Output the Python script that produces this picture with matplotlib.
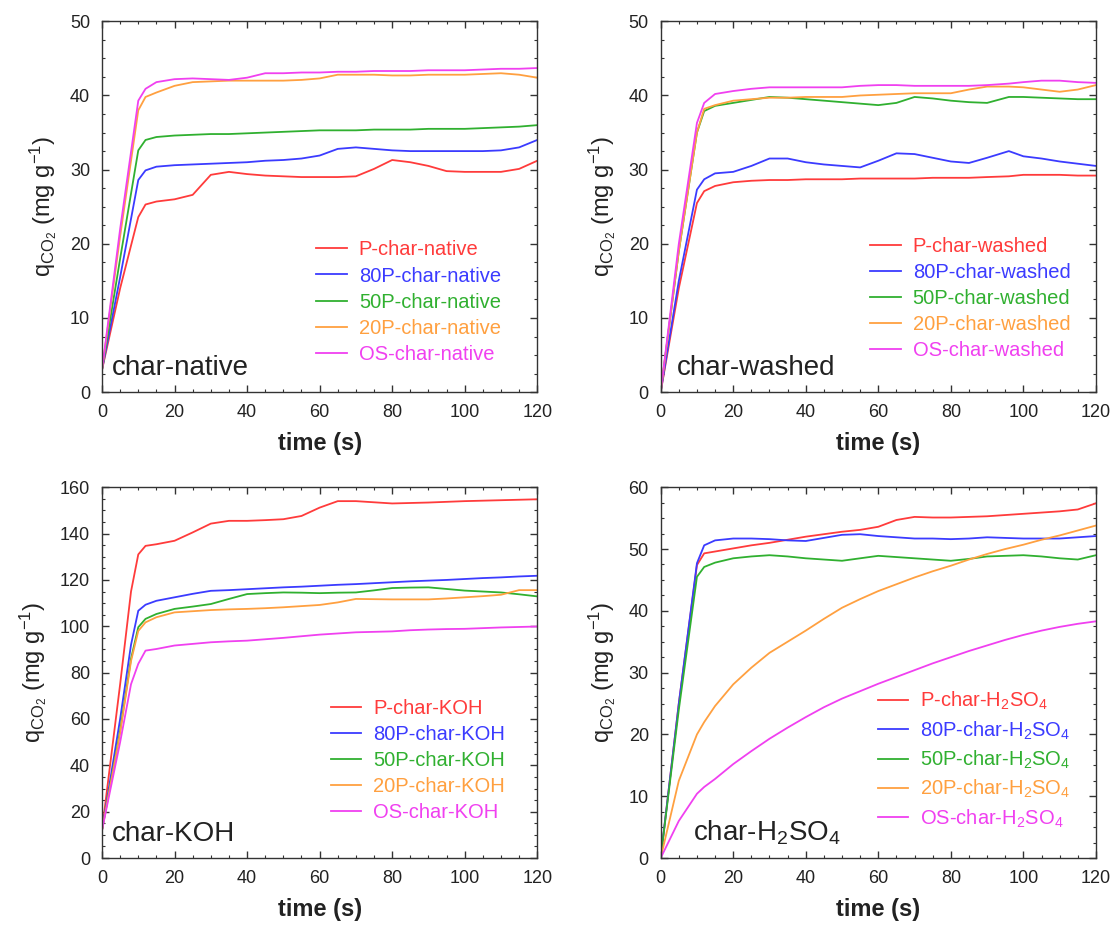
import matplotlib
matplotlib.use("Agg")
import matplotlib.pyplot as plt
from matplotlib.ticker import MultipleLocator, AutoMinorLocator

plt.rcParams["font.family"] = ["Liberation Sans", "DejaVu Sans"]
plt.rcParams["mathtext.fontset"] = "custom"
plt.rcParams["mathtext.rm"] = "Liberation Sans"
plt.rcParams["mathtext.it"] = "Liberation Sans:italic"
plt.rcParams["mathtext.bf"] = "Liberation Sans:bold"

COLORS = ["#ff3b3b", "#3b3bff", "#30b030", "#ffa040", "#f040f0"]
PREFIX = ["P", "80P", "50P", "20P", "OS"]

# ---- char-native ----
t_nat = [0, 5, 10, 12, 15, 20, 25, 30, 35, 40, 45, 50, 55, 60, 65, 70, 75, 80,
         85, 90, 95, 100, 105, 110, 115, 120]
nat_p = [3, 14, 23.6, 25.3, 25.7, 26.0, 26.6, 29.3, 29.7, 29.4, 29.2, 29.1, 29.0,
         29.0, 29.0, 29.1, 30.1, 31.3, 31.0, 30.5, 29.8, 29.7, 29.7, 29.7, 30.1, 31.2]
nat_80 = [3, 15.5, 28.6, 29.9, 30.4, 30.6, 30.7, 30.8, 30.9, 31.0, 31.2, 31.3, 31.5,
          31.9, 32.8, 33.0, 32.8, 32.6, 32.5, 32.5, 32.5, 32.5, 32.5, 32.6, 33.0, 34.0]
nat_50 = [3, 18, 32.6, 34.0, 34.4, 34.6, 34.7, 34.8, 34.8, 34.9, 35.0, 35.1, 35.2,
          35.3, 35.3, 35.3, 35.4, 35.4, 35.4, 35.5, 35.5, 35.5, 35.6, 35.7, 35.8, 36.0]
nat_20 = [3, 21, 38.0, 39.8, 40.4, 41.3, 41.8, 41.9, 42.0, 42.0, 42.0, 42.0, 42.1,
          42.3, 42.8, 42.8, 42.8, 42.7, 42.7, 42.8, 42.8, 42.8, 42.9, 43.0, 42.8, 42.4]
nat_os = [3, 22, 39.3, 40.9, 41.8, 42.2, 42.3, 42.2, 42.1, 42.4, 43.0, 43.0, 43.1,
          43.1, 43.2, 43.2, 43.3, 43.3, 43.3, 43.4, 43.4, 43.4, 43.5, 43.6, 43.6, 43.7]

# ---- char-washed ----
t_wash = [0, 5, 10, 12, 15, 20, 25, 30, 35, 40, 45, 50, 55, 60, 65, 70, 75, 80,
          85, 90, 96, 100, 105, 110, 115, 120]
wash_p = [0, 14, 25.5, 27.1, 27.8, 28.3, 28.5, 28.6, 28.6, 28.7, 28.7, 28.7, 28.8,
          28.8, 28.8, 28.8, 28.9, 28.9, 28.9, 29.0, 29.1, 29.3, 29.3, 29.3, 29.2, 29.2]
wash_80 = [0, 15, 27.3, 28.7, 29.5, 29.7, 30.5, 31.5, 31.5, 31.0, 30.7, 30.5, 30.3,
           31.2, 32.2, 32.1, 31.6, 31.1, 30.9, 31.6, 32.5, 31.8, 31.5, 31.1, 30.8, 30.5]
wash_50 = [0, 19, 35.0, 37.9, 38.6, 39.0, 39.4, 39.8, 39.7, 39.5, 39.3, 39.1, 38.9,
           38.7, 39.0, 39.8, 39.6, 39.3, 39.1, 39.0, 39.8, 39.8, 39.7, 39.6, 39.5, 39.5]
wash_20 = [0, 19, 35.0, 38.2, 38.7, 39.3, 39.5, 39.7, 39.7, 39.8, 39.8, 39.8, 40.0,
           40.1, 40.2, 40.3, 40.3, 40.3, 40.8, 41.2, 41.2, 41.1, 40.8, 40.5, 40.8, 41.4]
wash_os = [0, 20, 36.3, 39.0, 40.2, 40.6, 40.9, 41.1, 41.1, 41.1, 41.1, 41.1, 41.3,
           41.4, 41.4, 41.3, 41.3, 41.3, 41.3, 41.4, 41.6, 41.8, 42.0, 42.0, 41.8, 41.7]

# ---- char-KOH ----
t_koh = [0, 5, 8, 10, 12, 15, 20, 25, 30, 35, 40, 45, 50, 55, 60, 65, 70, 75, 80,
         85, 90, 95, 100, 105, 110, 115, 120]
koh_p = [12, 75, 115, 131, 134.7, 135.4, 136.9, 140.5, 144.3, 145.5, 145.5, 145.8,
         146.2, 147.6, 151.2, 154.0, 154.0, 153.5, 153.0, 153.2, 153.4, 153.7, 154.0,
         154.2, 154.4, 154.6, 154.8]
koh_80 = [12, 60, 92, 106.7, 109.3, 111.0, 112.5, 114.0, 115.3, 115.6, 116.0, 116.4,
          116.8, 117.1, 117.5, 117.9, 118.2, 118.6, 119.0, 119.4, 119.7, 120.0, 120.4,
          120.8, 121.1, 121.5, 121.8]
koh_50 = [12, 55, 86, 99.6, 103.2, 105.3, 107.5, 108.5, 109.6, 111.8, 113.9, 114.3,
          114.6, 114.5, 114.3, 114.5, 114.6, 115.5, 116.5, 116.7, 116.8, 116.1, 115.4,
          115.0, 114.6, 113.8, 112.9]
koh_20 = [12, 54, 85, 98.0, 101.7, 103.9, 106.0, 106.5, 107.0, 107.3, 107.5, 107.8,
          108.2, 108.7, 109.2, 110.3, 111.8, 111.7, 111.6, 111.6, 111.6, 112.0, 112.5,
          113.0, 113.6, 115.6, 115.6]
koh_os = [12, 50, 75, 83.8, 89.5, 90.2, 91.7, 92.4, 93.1, 93.5, 93.8, 94.4, 95.0,
          95.7, 96.4, 96.9, 97.4, 97.6, 97.8, 98.3, 98.6, 98.8, 98.9, 99.2, 99.5, 99.7, 99.9]

# ---- char-H2SO4 ----
t_acid = [0, 5, 10, 12, 15, 20, 25, 30, 35, 40, 45, 50, 55, 60, 65, 70, 75, 80,
          85, 90, 95, 100, 105, 110, 115, 120]
acid_p = [0, 25, 47.4, 49.3, 49.6, 50.1, 50.6, 51.0, 51.5, 52.0, 52.4, 52.8, 53.1,
          53.6, 54.7, 55.2, 55.1, 55.1, 55.2, 55.3, 55.5, 55.7, 55.9, 56.1, 56.4, 57.4]
acid_80 = [0, 25, 47.7, 50.6, 51.4, 51.7, 51.7, 51.6, 51.4, 51.3, 51.8, 52.3, 52.4,
           52.1, 51.9, 51.7, 51.7, 51.6, 51.7, 51.9, 51.8, 51.7, 51.7, 51.7, 51.9, 52.1]
acid_50 = [0, 24, 45.5, 47.1, 47.8, 48.5, 48.8, 49.0, 48.8, 48.5, 48.3, 48.1, 48.5,
           48.9, 48.7, 48.5, 48.3, 48.1, 48.4, 48.8, 48.9, 49.0, 48.8, 48.5, 48.3, 49.0]
acid_20 = [0, 12.5, 20.0, 22.0, 24.6, 28.1, 30.8, 33.2, 35.0, 36.8, 38.7, 40.5, 41.9,
           43.2, 44.3, 45.4, 46.4, 47.3, 48.3, 49.2, 50.0, 50.7, 51.5, 52.2, 53.0, 53.8]
acid_os = [0, 6.0, 10.4, 11.5, 12.8, 15.2, 17.3, 19.3, 21.1, 22.8, 24.4, 25.8, 27.0,
           28.2, 29.3, 30.4, 31.5, 32.5, 33.5, 34.4, 35.3, 36.1, 36.8, 37.4, 37.9, 38.3]

H2SO4 = r"H$_2$SO$_4$"
panels = [
    dict(t=t_nat, ys=[nat_p, nat_80, nat_50, nat_20, nat_os], suffix="native",
         tag="char-native", ymax=50, ystep=10, pos=(0.0914, 0.577), tagx=0.022,
         leg=(0.935, 0.055)),
    dict(t=t_wash, ys=[wash_p, wash_80, wash_50, wash_20, wash_os], suffix="washed",
         tag="char-washed", ymax=50, ystep=10, pos=(0.592, 0.577), tagx=0.037,
         leg=(0.96, 0.065)),
    dict(t=t_koh, ys=[koh_p, koh_80, koh_50, koh_20, koh_os], suffix="KOH",
         tag="char-KOH", ymax=160, ystep=20, pos=(0.0914, 0.0744), tagx=0.022,
         leg=(0.945, 0.075)),
    dict(t=t_acid, ys=[acid_p, acid_80, acid_50, acid_20, acid_os], suffix=H2SO4,
         tag="char-" + H2SO4, ymax=60, ystep=10, pos=(0.592, 0.0744), tagx=0.075,
         leg=(0.96, 0.055)),
]

fig = plt.figure(figsize=(11.16, 9.27), dpi=100)
for p in panels:
    ax = fig.add_axes([p["pos"][0], p["pos"][1], 0.390, 0.400])
    for ys, c, pre in zip(p["ys"], COLORS, PREFIX):
        ax.plot(p["t"], ys, color=c, lw=1.3, label="{}-char-{}".format(pre, p["suffix"]))
    ax.set_xlim(0, 120)
    ax.set_ylim(0, p["ymax"])
    ax.xaxis.set_major_locator(MultipleLocator(20))
    ax.xaxis.set_minor_locator(AutoMinorLocator(4))
    ax.yaxis.set_major_locator(MultipleLocator(p["ystep"]))
    ax.yaxis.set_minor_locator(AutoMinorLocator(4))
    ax.tick_params(which="both", direction="in", top=True, right=True,
                   colors="#333333", labelcolor="#222222", labelsize=13)
    ax.tick_params(which="major", length=5, width=1, pad=8.5)
    ax.tick_params(which="minor", length=2.5, width=0.8, pad=8.5)
    for s in ax.spines.values():
        s.set_color("#333333")
        s.set_linewidth(1)
    ax.set_xlabel("time (s)", fontsize=17, fontweight="bold", color="#222222",
                  labelpad=8)
    ax.set_ylabel(r"q$_{\mathrm{CO_2}}$ (mg g$^{-1}$)", fontsize=17, color="#222222",
                  labelpad=8)
    ax.text(p["tagx"], 0.03, p["tag"], transform=ax.transAxes, fontsize=20,
            color="#222222", ha="left", va="bottom")
    ax.legend(loc="lower right", bbox_to_anchor=p["leg"], frameon=False,
              labelcolor="linecolor", fontsize=14.5, handlelength=1.5,
              handletextpad=0.6, labelspacing=0.35, borderaxespad=0)

fig.savefig("out.png", dpi=100, facecolor="white")
